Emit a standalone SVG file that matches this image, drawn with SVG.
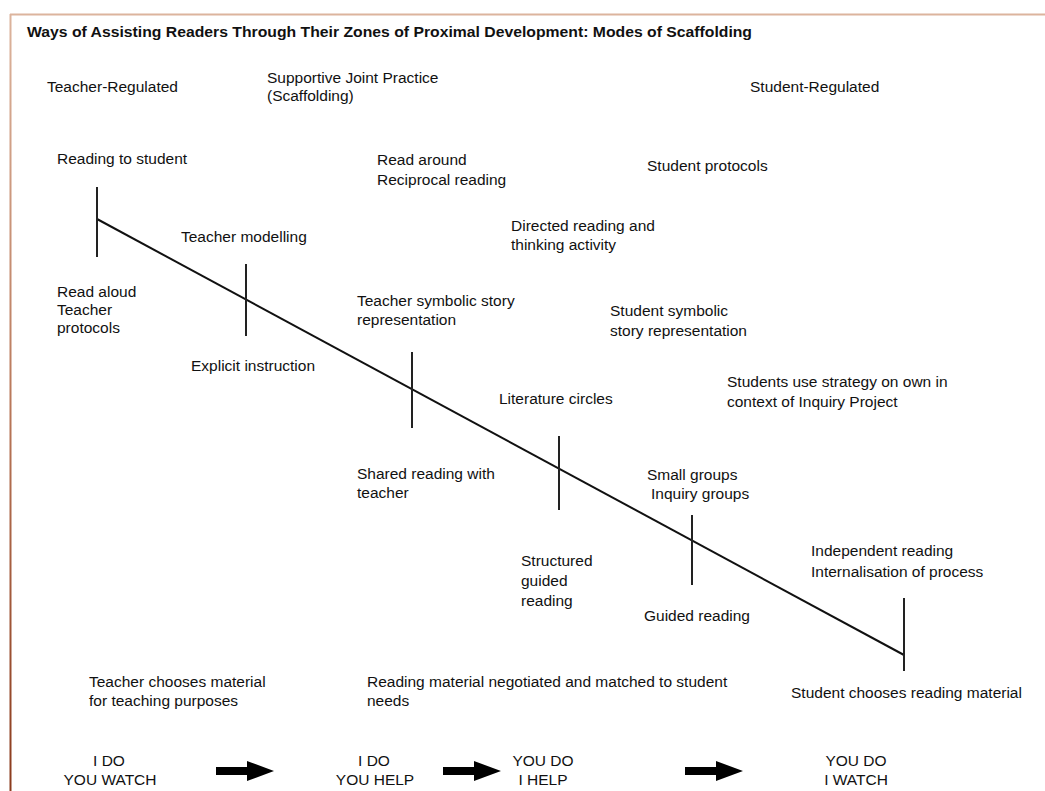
<svg xmlns="http://www.w3.org/2000/svg" width="1045" height="791" viewBox="0 0 1045 791">
  <defs>
    <linearGradient id="edge" x1="0" y1="14" x2="0" y2="791" gradientUnits="userSpaceOnUse">
      <stop offset="0" stop-color="#dcb49d"/>
      <stop offset="0.5" stop-color="#b9785a"/>
      <stop offset="1" stop-color="#8a3a1c"/>
    </linearGradient>
    <!-- block arrow pointing right, origin at tail centre -->
    <path id="blockArrow" d="M0,-4 L31,-4 L31,-10 L58,0 L31,10 L31,4 L0,4 Z" fill="#000"/>
    <style>
      text { font-family: "Liberation Sans", Arial, sans-serif; font-size: 15.5px; fill: #111; }
      .title { font-weight: bold; font-size: 15px; }
      .mid { text-anchor: middle; }
      .tick { stroke: #222; stroke-width: 2; }
      .axis { stroke: #111; stroke-width: 2; fill: none; }
    </style>
  </defs>

  <rect width="1045" height="791" fill="#fff"/>

  <!-- frame -->
  <line x1="10" y1="14.5" x2="1045" y2="14.5" stroke="#dcb49d" stroke-width="2"/>
  <line x1="10.5" y1="14" x2="10.5" y2="791" stroke="url(#edge)" stroke-width="2"/>

  <text class="title" x="27" y="37" textLength="725" lengthAdjust="spacingAndGlyphs">Ways of Assisting Readers Through Their Zones of Proximal Development: Modes of Scaffolding</text>

  <!-- column headings -->
  <g id="heading-teacher"><text x="47" y="92">Teacher-Regulated</text></g>
  <g id="heading-joint"><text x="267" y="83">Supportive Joint Practice</text><text x="267" y="101">(Scaffolding)</text></g>
  <g id="heading-student"><text x="750" y="92">Student-Regulated</text></g>

  <!-- progression line with ticks, and release arrows -->
  <g id="connectors">
    <line class="axis" x1="97" y1="219" x2="904" y2="655"/>
    <line class="tick" x1="97" y1="187" x2="97" y2="257"/>
    <line class="tick" x1="246" y1="264" x2="246" y2="336"/>
    <line class="tick" x1="412" y1="352" x2="412" y2="428"/>
    <line class="tick" x1="559" y1="436" x2="559" y2="510"/>
    <line class="tick" x1="692" y1="515" x2="692" y2="585"/>
    <line class="tick" x1="904" y1="598" x2="904" y2="671"/>
    <use href="#blockArrow" x="216" y="771"/>
    <use href="#blockArrow" x="443" y="771"/>
    <use href="#blockArrow" x="685" y="771"/>
  </g>

  <!-- stage 1 -->
  <g id="stage1-above"><text x="57" y="164">Reading to student</text></g>
  <g id="stage1-below"><text x="57" y="297">Read aloud</text><text x="57" y="315">Teacher</text><text x="57" y="333">protocols</text></g>

  <!-- stage 2 -->
  <g id="stage2-above"><text x="181" y="242">Teacher modelling</text></g>
  <g id="stage2-below"><text x="191" y="371">Explicit instruction</text></g>

  <!-- stage 3 -->
  <g id="stage3-above"><text x="357" y="306">Teacher symbolic story</text><text x="357" y="325">representation</text></g>
  <g id="stage3-below"><text x="357" y="479">Shared reading with</text><text x="357" y="498">teacher</text></g>

  <!-- stage 4 -->
  <g id="stage4-above"><text x="499" y="404">Literature circles</text></g>
  <g id="stage4-below"><text x="521" y="566">Structured</text><text x="521" y="586">guided</text><text x="521" y="606">reading</text></g>

  <!-- stage 5 -->
  <g id="stage5-above"><text x="647" y="480">Small groups</text><text x="651" y="499">Inquiry groups</text></g>
  <g id="stage5-below"><text x="644" y="621">Guided reading</text></g>

  <!-- stage 6 -->
  <g id="stage6-above"><text x="811" y="556">Independent reading</text><text x="811" y="577">Internalisation of process</text></g>

  <!-- free-standing activities -->
  <g id="read-around"><text x="377" y="165">Read around</text><text x="377" y="185">Reciprocal reading</text></g>
  <g id="student-protocols"><text x="647" y="171">Student protocols</text></g>
  <g id="directed-reading"><text x="511" y="231">Directed reading and</text><text x="511" y="250">thinking activity</text></g>
  <g id="student-symbolic"><text x="610" y="316">Student symbolic</text><text x="610" y="336">story representation</text></g>
  <g id="inquiry-project"><text x="727" y="387">Students use strategy on own in</text><text x="727" y="407">context of Inquiry Project</text></g>

  <!-- material choice -->
  <g id="material-teacher"><text x="89" y="687">Teacher chooses material</text><text x="89" y="706">for teaching purposes</text></g>
  <g id="material-negotiated"><text x="367" y="687">Reading material negotiated and matched to student</text><text x="367" y="706">needs</text></g>
  <g id="material-student"><text x="791" y="698">Student chooses reading material</text></g>

  <!-- gradual release steps -->
  <g id="step1"><text class="mid" x="109" y="766">I DO</text><text class="mid" x="110" y="785">YOU WATCH</text></g>
  <g id="step2"><text class="mid" x="374" y="766">I DO</text><text class="mid" x="375" y="785">YOU HELP</text></g>
  <g id="step3"><text class="mid" x="543" y="766">YOU DO</text><text class="mid" x="543" y="785">I HELP</text></g>
  <g id="step4"><text class="mid" x="856" y="766">YOU DO</text><text class="mid" x="856" y="785">I WATCH</text></g>
</svg>
